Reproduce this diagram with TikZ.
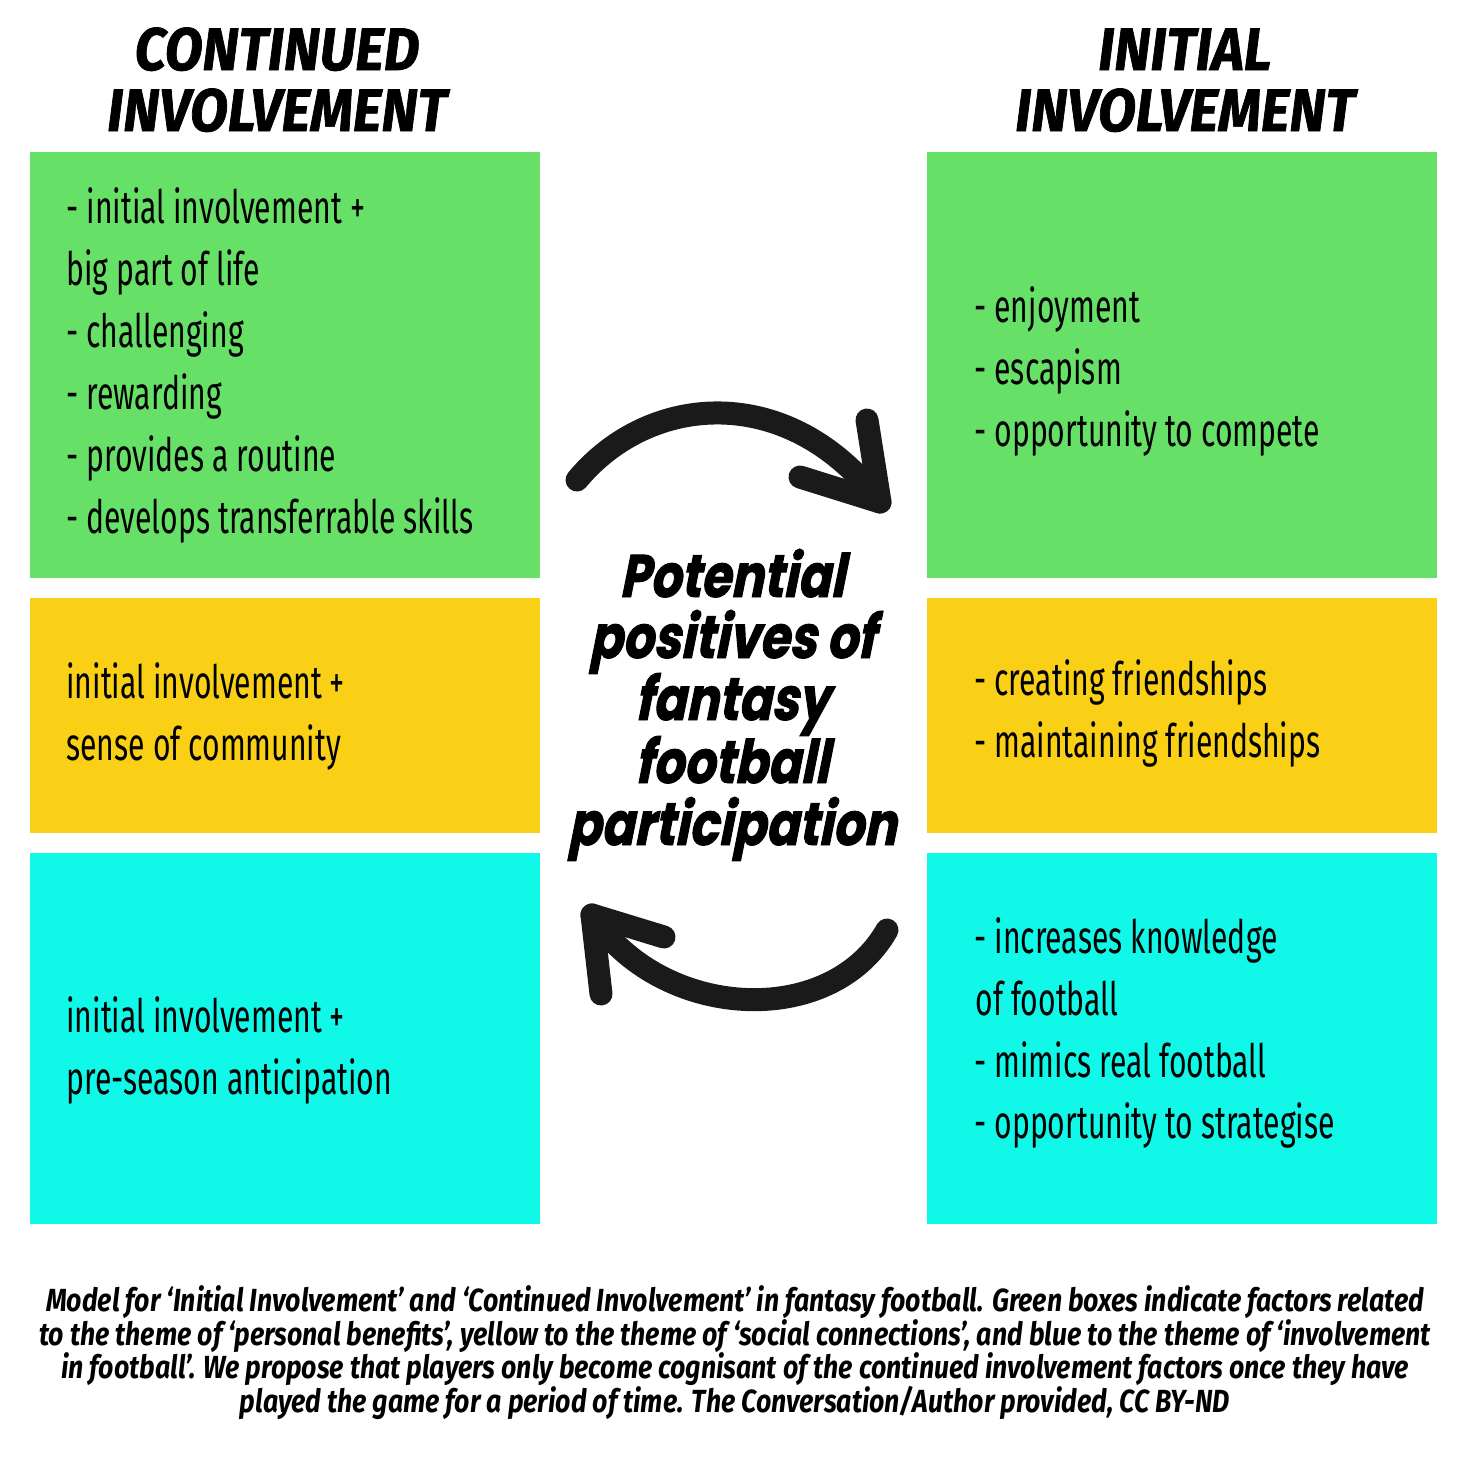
\documentclass[tikz,border=0pt]{standalone}
\usepackage{fontspec}
\setmainfont{Fira Sans}
\newfontfamily\bodyfont{Fira Sans}[FakeStretch=0.655]
\newfontfamily\headfont{Fira Sans}[FakeStretch=0.92,FakeBold=1.2]
\newfontfamily\ttlfont{Poppins}[FakeStretch=0.81,FakeSlant=0.2,FakeBold=1.5]
\newfontfamily\capfont{Fira Sans}[FakeStretch=0.835]
\definecolor{boxgreen}{RGB}{102,224,102}
\definecolor{boxyellow}{RGB}{249,208,21}
\definecolor{boxcyan}{RGB}{16,248,232}
\definecolor{ink}{RGB}{26,26,26}
\tikzset{
  body/.style={anchor=base west,inner sep=0pt,font=\bodyfont\fontsize{23}{28}\selectfont},
  head/.style={anchor=base,inner sep=0pt,font=\headfont\bfseries\itshape\fontsize{30}{36}\selectfont},
  ttl/.style={anchor=base,inner sep=0pt,font=\ttlfont\bfseries\fontsize{30}{36}\selectfont},
  captext/.style={anchor=base,inner sep=0pt,font=\capfont\bfseries\itshape\fontsize{16}{19}\selectfont},
  arrowstroke/.style={draw=ink,line width=11.5pt,line cap=round,line join=round}
}
\begin{document}
\begin{tikzpicture}[x=0.5pt,y=-0.5pt]
\useasboundingbox (0,0) rectangle (1466,1457);
\fill[white] (0,0) rectangle (1466,1457);
% boxes
\fill[boxgreen]  (30,152) rectangle (540,578);
\fill[boxyellow] (30,598) rectangle (540,833);
\fill[boxcyan]   (30,853) rectangle (540,1224);
\fill[boxgreen]  (927,152) rectangle (1437,578);
\fill[boxyellow] (927,598) rectangle (1437,833);
\fill[boxcyan]   (927,853) rectangle (1437,1224);
% headings
\node[head] (hc1) at (277,70) {CONTINUED};
\node[head] (hc2) at (277,131) {INVOLVEMENT};
\node[head] (hi1) at (1185,70) {INITIAL};
\node[head] (hi2) at (1185,131) {INVOLVEMENT};
% left green
\node[body] (lg1) at (66,223) {- initial involvement +};
\node[body] (lg2) at (66,285) {big part of life};
\node[body] (lg3) at (66,347) {- challenging};
\node[body] (lg4) at (66,409) {- rewarding};
\node[body] (lg5) at (66,471) {- provides a routine};
\node[body] (lg6) at (66,533) {- develops transferrable skills};
% left yellow
\node[body] (ly1) at (66,698) {initial involvement +};
\node[body] (ly2) at (66,760) {sense of community};
% left cyan
\node[body] (lc1) at (66,1032) {initial involvement +};
\node[body] (lc2) at (66,1094) {pre-season anticipation};
% right green
\node[body] (rg1) at (974,322) {- enjoyment};
\node[body] (rg2) at (974,384) {- escapism};
\node[body] (rg3) at (974,446) {- opportunity to compete};
% right yellow
\node[body] (ry1) at (974,695) {- creating friendships};
\node[body] (ry2) at (974,757) {- maintaining friendships};
% right cyan
\node[body] (rc1) at (974,953) {- increases knowledge};
\node[body] (rc2) at (975,1015) {of football};
\node[body] (rc3) at (974,1077) {- mimics real football};
\node[body] (rc4) at (974,1138) {- opportunity to strategise};
% centre title
\node[ttl] (t1) at (732,597) {Potential};
\node[ttl] (t2) at (732,658) {positives of};
\node[ttl] (t3) at (732,720) {fantasy};
\node[ttl] (t4) at (732,783) {football};
\node[ttl] (t5) at (732,845) {participation};
% arrows
\coordinate (a1s) at (577,480);
\coordinate (a1t) at (880,502);
\coordinate (a1u) at (867,420);
\coordinate (a1l) at (800,477);
\draw[arrowstroke] (a1s) .. controls (650,392) and (790,382) .. (a1t);
\draw[arrowstroke] (a1u) -- (a1t) -- (a1l);
\coordinate (a2s) at (887,930);
\coordinate (a2t) at (592,915);
\coordinate (a2d) at (601,994);
\coordinate (a2r) at (664,937);
\draw[arrowstroke] (a2s) .. controls (830,1030) and (660,1020) .. (a2t);
\draw[arrowstroke] (a2d) -- (a2t) -- (a2r);
% caption
\node[captext] (c1) at (735,1311) {Model for ‘Initial Involvement’ and ‘Continued Involvement’ in fantasy football. Green boxes indicate factors related};
\node[captext] (c2) at (735,1345) {to the theme of ‘personal benefits’, yellow to the theme of ‘social connections’, and blue to the theme of ‘involvement};
\node[captext] (c3) at (735,1378) {in football’. We propose that players only become cognisant of the continued involvement factors once they have};
\node[captext] (c4) at (735,1412) {played the game for a period of time. The Conversation/Author provided, CC BY-ND};
\end{tikzpicture}
\end{document}
